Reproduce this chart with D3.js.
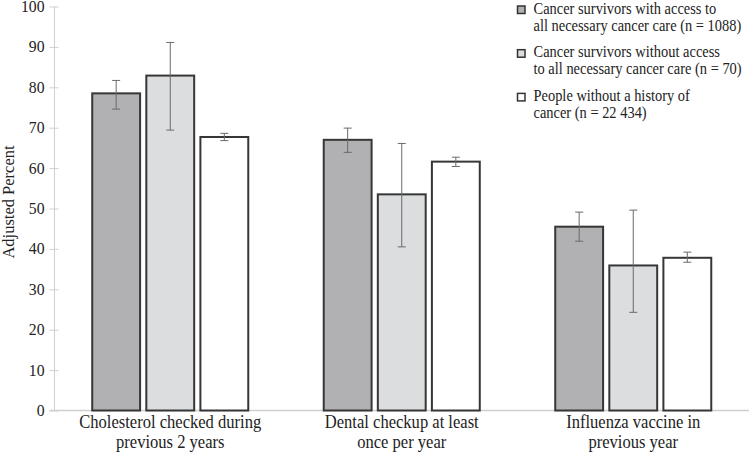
<!DOCTYPE html>
<html>
<head>
<meta charset="utf-8">
<script src="https://cdn.jsdelivr.net/npm/d3@7"></script>
<style>
  body { margin: 0; background: #fff; }
  svg { display: block; }
  svg text { font-family: "Liberation Serif", "Times New Roman", serif; }
</style>
</head>
<body>
<div id="chart"></div>
<script>
// values
const categories = [["Cholesterol checked during", "previous 2 years"], ["Dental checkup at least", "once per year"], ["Influenza vaccine in", "previous year"]];
const series_names = [
  ["Cancer survivors with access to", "all necessary cancer care (n = 1088)"],
  ["Cancer survivors without access", "to all necessary cancer care (n = 70)"],
  ["People without a history of", "cancer (n = 22 434)"]
];
const series_colors = ["#b1b1b4", "#dcdddf", "#ffffff"];
const access = [78.5, 67.0, 45.5];
const access_lo = [74.6, 63.9, 41.9];
const access_hi = [81.7, 69.9, 49.1];
const no_access = [82.9, 53.5, 35.9];
const no_access_lo = [69.4, 40.5, 24.3];
const no_access_hi = [91.1, 66.1, 49.6];
const no_history = [67.7, 61.6, 37.8];
const no_history_lo = [66.8, 60.4, 36.7];
const no_history_hi = [68.6, 62.7, 39.2];
const y_ticks = [0, 10, 20, 30, 40, 50, 60, 70, 80, 90, 100];

const serif = "Liberation Serif";

main();

function main() {
  const width = 749, height = 457;
  const margin = {top: 6.5, right: 0, bottom: 46.5, left: 54.5};

  const rows = [];
  const vals = [access, no_access, no_history];
  const los = [access_lo, no_access_lo, no_history_lo];
  const his = [access_hi, no_access_hi, no_history_hi];
  categories.forEach((c, ci) => {
    vals.forEach((v, si) => {
      rows.push({cat: ci, series: si, value: v[ci], lo: los[si][ci], hi: his[si][ci]});
    });
  });

  const x = d3.scaleBand()
    .domain(d3.range(categories.length))
    .range([margin.left, width - margin.right])
    .paddingInner(0.326)
    .paddingOuter(0.163);
  const xs = d3.scaleBand()
    .domain(d3.range(series_names.length))
    .range([0, x.bandwidth()])
    .paddingInner(0.115);
  const y = d3.scaleLinear().domain([0, 100]).range([height - margin.bottom, margin.top]);

  const svg = d3.select("#chart").append("svg")
    .attr("width", width)
    .attr("height", height)
    .attr("viewBox", [0, 0, width, height])
    .attr("font-family", serif);

  // y axis
  svg.append("g")
    .attr("transform", `translate(${margin.left},0)`)
    .call(d3.axisLeft(y).tickValues(y_ticks).tickSize(5).tickPadding(5))
    .attr("font-family", serif)
    .call(g => g.select(".domain").attr("stroke", "#d0d0d0").attr("d", `M0,${y(0)}V${y(100)}`))
    .call(g => g.selectAll(".tick line").attr("stroke", "#d0d0d0").attr("x1", 4).attr("x2", -5))
    .call(g => g.selectAll(".tick text").attr("fill", "#222").attr("font-size", 15.7)
      .attr("font-family", serif));

  svg.append("text")
    .attr("transform", `translate(13.5,202) rotate(-90)`)
    .attr("text-anchor", "middle")
    .attr("font-family", serif)
    .attr("font-size", 16.5)
    .attr("fill", "#222")
    .text("Adjusted Percent");

  // baseline
  svg.append("line")
    .attr("x1", margin.left - 5).attr("x2", width)
    .attr("y1", y(0)).attr("y2", y(0))
    .attr("stroke", "#d0d0d0").attr("stroke-width", 1.5);

  // bars
  svg.append("g")
    .selectAll("rect")
    .data(rows)
    .join("rect")
      .attr("x", d => x(d.cat) + xs(d.series))
      .attr("y", d => y(d.value))
      .attr("width", xs.bandwidth())
      .attr("height", d => y(0) - y(d.value))
      .attr("fill", d => series_colors[d.series])
      .attr("stroke", "#363636")
      .attr("stroke-width", 2);

  // error bars
  const err = svg.append("g")
    .attr("stroke", "#6a6a6a")
    .attr("stroke-width", 1);
  const cx = d => x(d.cat) + xs(d.series) + xs.bandwidth() / 2;
  err.selectAll(".stem").data(rows).join("line")
    .attr("x1", cx).attr("x2", cx)
    .attr("y1", d => y(d.lo)).attr("y2", d => y(d.hi));
  err.selectAll(".cap-hi").data(rows).join("line")
    .attr("x1", d => cx(d) - 4).attr("x2", d => cx(d) + 4)
    .attr("y1", d => y(d.hi)).attr("y2", d => y(d.hi));
  err.selectAll(".cap-lo").data(rows).join("line")
    .attr("x1", d => cx(d) - 4).attr("x2", d => cx(d) + 4)
    .attr("y1", d => y(d.lo)).attr("y2", d => y(d.lo));

  // category labels (the source font is a bit condensed)
  svg.append("g")
    .selectAll("text")
    .data(categories)
    .join("text")
      .attr("transform", (d, i) => `translate(${x(i) + x.bandwidth() / 2},428) scale(0.92,1)`)
      .attr("text-anchor", "middle")
      .attr("font-family", serif)
      .attr("font-size", 18)
      .attr("fill", "#222")
    .selectAll("tspan")
    .data(d => d)
    .join("tspan")
      .attr("x", 0)
      .attr("dy", (d, i) => i ? 20 : 0)
      .text(d => d);

  // legend
  const legend = svg.append("g")
    .selectAll("g")
    .data(series_names)
    .join("g")
      .attr("transform", (d, i) => `translate(517.5,${6 + i * 43.7})`);
  legend.append("rect")
    .attr("width", 7.5).attr("height", 7.5)
    .attr("fill", (d, i) => series_colors[i])
    .attr("stroke", "#333").attr("stroke-width", 1.5);
  legend.append("text")
    .attr("transform", "translate(16,7.5) scale(0.92,1)")
    .attr("font-family", serif)
    .attr("font-size", 15.7)
    .attr("fill", "#222")
    .selectAll("tspan")
    .data(d => d)
    .join("tspan")
      .attr("x", 0)
      .attr("dy", (d, i) => i ? 17.3 : 0)
      .text(d => d);
}
</script>
</body>
</html>
